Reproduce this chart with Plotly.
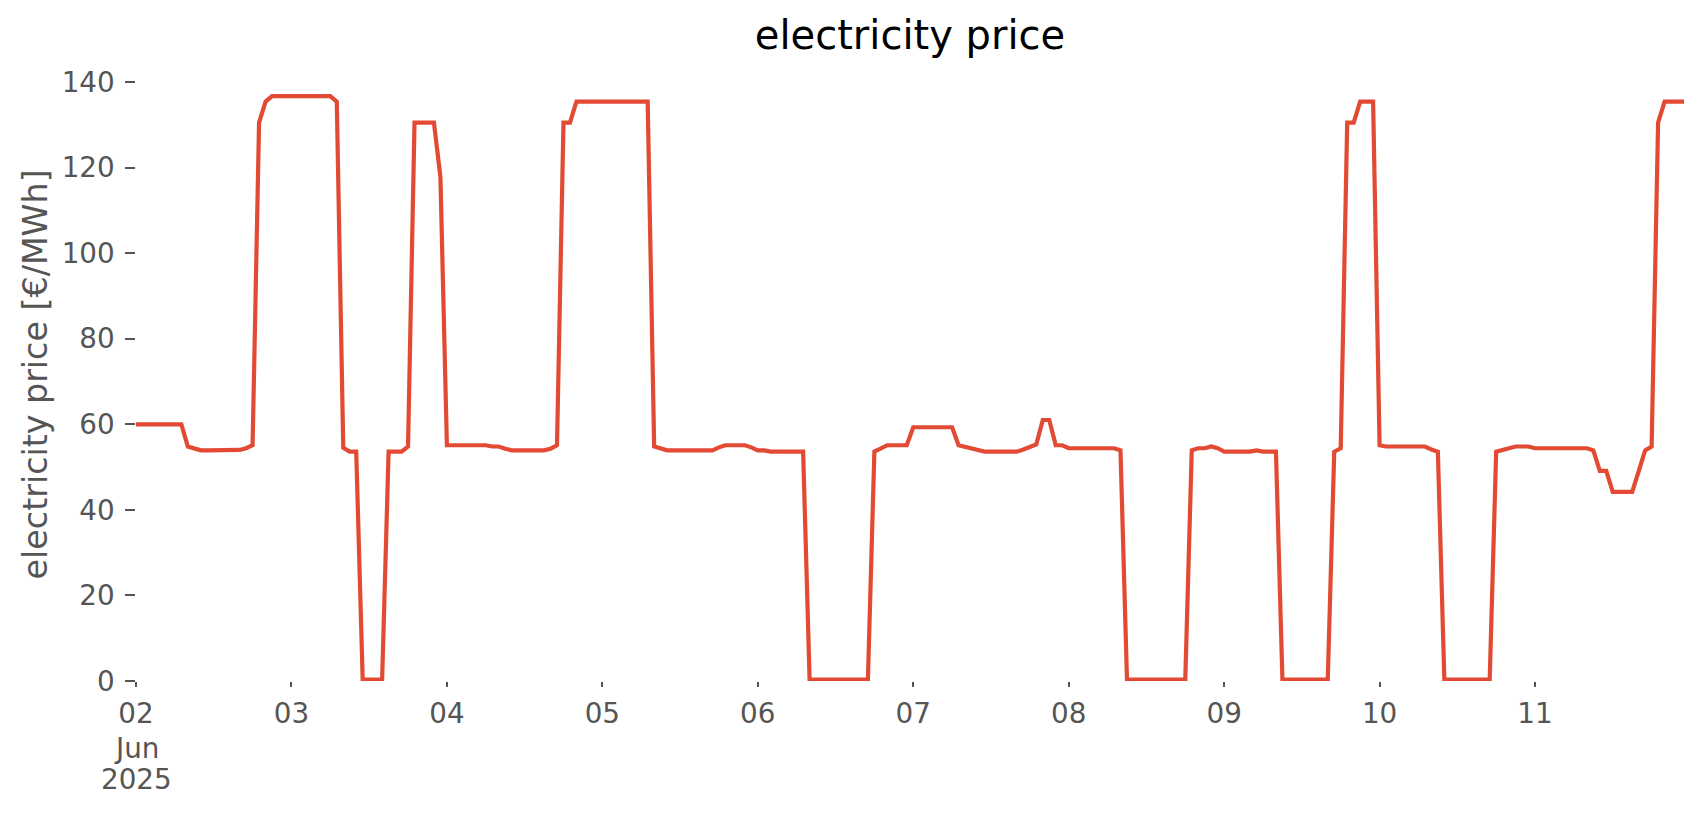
import pandas as pd
import plotly.graph_objects as go

# ---- data ----
start_time = "2025-06-02 00:00"
n_hours = 240
price = [
    # 02 Jun
    60.0, 60.0, 60.0, 60.0, 60.0, 60.0, 60.0, 60.0, 54.8, 54.3, 53.9, 53.9,
    53.9, 53.9, 53.9, 53.9, 54.0, 54.4, 55.1, 130.5, 135.4, 136.7, 136.7, 136.7,
    # 03 Jun
    136.7, 136.7, 136.7, 136.7, 136.7, 136.7, 136.7, 135.4, 54.5, 53.6, 53.6, 0.3,
    0.3, 0.3, 0.3, 53.6, 53.6, 53.6, 54.8, 130.5, 130.5, 130.5, 130.5, 117.8,
    # 04 Jun
    55.1, 55.1, 55.1, 55.1, 55.1, 55.1, 55.1, 54.8, 54.8, 54.3, 53.9, 53.9,
    53.9, 53.9, 53.9, 53.9, 54.3, 55.1, 130.5, 130.5, 135.4, 135.4, 135.4, 135.4,
    # 05 Jun
    135.4, 135.4, 135.4, 135.4, 135.4, 135.4, 135.4, 135.4, 54.8, 54.3, 53.9, 53.9,
    53.9, 53.9, 53.9, 53.9, 53.9, 53.9, 54.6, 55.1, 55.1, 55.1, 55.1, 54.6,
    # 06 Jun
    53.9, 53.9, 53.6, 53.6, 53.6, 53.6, 53.6, 53.6, 0.3, 0.3, 0.3, 0.3,
    0.1, 0.1, 0.1, 0.3, 0.3, 0.3, 53.6, 54.4, 55.1, 55.1, 55.1, 55.1,
    # 07 Jun
    59.3, 59.3, 59.3, 59.3, 59.3, 59.3, 59.3, 55.1, 54.7, 54.3, 53.9, 53.6,
    53.6, 53.6, 53.6, 53.6, 53.6, 54.1, 54.6, 55.3, 61.0, 61.0, 55.1, 55.1,
    # 08 Jun
    54.4, 54.4, 54.4, 54.4, 54.4, 54.4, 54.4, 54.4, 53.9, 0.3, 0.3, 0.3,
    0.3, 0.3, 0.3, 0.3, 0.3, 0.3, 0.3, 53.9, 54.4, 54.4, 54.8, 54.4,
    # 09 Jun
    53.6, 53.6, 53.6, 53.6, 53.6, 53.9, 53.6, 53.6, 53.6, 0.3, 0.3, 0.3,
    0.3, 0.3, 0.3, 0.3, 0.3, 53.6, 54.4, 130.5, 130.5, 135.4, 135.4, 135.4,
    # 10 Jun
    55.1, 54.8, 54.8, 54.8, 54.8, 54.8, 54.8, 54.8, 54.1, 53.6, 0.3, 0.3,
    0.3, 0.3, 0.3, 0.3, 0.3, 0.3, 53.6, 54.0, 54.4, 54.8, 54.8, 54.8,
    # 11 Jun
    54.4, 54.4, 54.4, 54.4, 54.4, 54.4, 54.4, 54.4, 54.4, 53.9, 49.1, 49.1,
    44.2, 44.2, 44.2, 44.2, 49.0, 53.9, 54.8, 130.5, 135.4, 135.4, 135.4, 135.4,
]
day_ticks = ["2025-06-02", "2025-06-03", "2025-06-04", "2025-06-05", "2025-06-06",
             "2025-06-07", "2025-06-08", "2025-06-09", "2025-06-10", "2025-06-11"]
day_labels = ["02", "03", "04", "05", "06", "07", "08", "09", "10", "11"]
first_tick_extra = ["Jun", "2025"]
y_ticks = [0, 20, 40, 60, 80, 100, 120, 140]

times = pd.date_range(start_time, periods=n_hours, freq="h")

FONT = "DejaVu Sans"
GREY = "#555555"
TICK_SIZE = 27.8

fig = go.Figure()
fig.add_trace(go.Scatter(x=times, y=price, mode="lines",
                         line=dict(color="#E24A33", width=4.2),
                         showlegend=False, hoverinfo="skip"))

xr = [times[0], times[-1]]
fig.update_layout(
    width=1706, height=815,
    margin=dict(l=135.7, r=21.5, t=66.6, b=133.5),
    paper_bgcolor="white", plot_bgcolor="white",
    font=dict(family=FONT, color=GREY),
    title=dict(text="electricity price", x=0.5, xref="paper",
               y=1 - 35 / 815, yref="container", yanchor="middle",
               xanchor="center",
               font=dict(family=FONT, size=40, color="black")),
    xaxis=dict(range=xr, tickmode="array", tickvals=day_ticks, ticktext=day_labels,
               ticks="outside", ticklen=5, tickwidth=2, tickcolor=GREY,
               ticklabelstandoff=3,
               tickfont=dict(family=FONT, size=TICK_SIZE, color=GREY),
               showgrid=False, zeroline=False, showline=False),
    xaxis2=dict(range=xr, overlaying="x", anchor="y", side="bottom",
                tickmode="array", tickvals=[times[0], times[-1]],
                ticks="outside", ticklen=9.7, tickwidth=2.2, tickcolor=GREY,
                showticklabels=False, showgrid=False, zeroline=False, showline=False),
    yaxis=dict(range=[0, 143.5], tickmode="array", tickvals=y_ticks,
               ticks="outside", ticklen=9.7, tickwidth=2.2, tickcolor=GREY,
               ticklabelstandoff=5,
               tickfont=dict(family=FONT, size=TICK_SIZE, color=GREY),
               showgrid=False, zeroline=False, showline=False),
)
# second and third line of the first date tick label (matplotlib-style spacing)
for i, txt in enumerate(first_tick_extra):
    fig.add_annotation(text=txt, xref="x", x=day_ticks[0], yref="paper", y=0,
                       yanchor="middle", xanchor="center", yshift=-67.5 - 31 * i,
                       showarrow=False,
                       font=dict(family=FONT, size=TICK_SIZE, color=GREY))
fig.add_annotation(text="electricity price [€/MWh]", textangle=-90,
                   xref="paper", yref="paper", x=-0.065, y=0.5,
                   xanchor="center", yanchor="middle", showarrow=False,
                   font=dict(family=FONT, size=33.3, color=GREY))

fig.write_html("out.html", config={"displayModeBar": False},
               post_script="document.body.style.margin='0';"
                           "document.body.style.overflow='hidden';")
